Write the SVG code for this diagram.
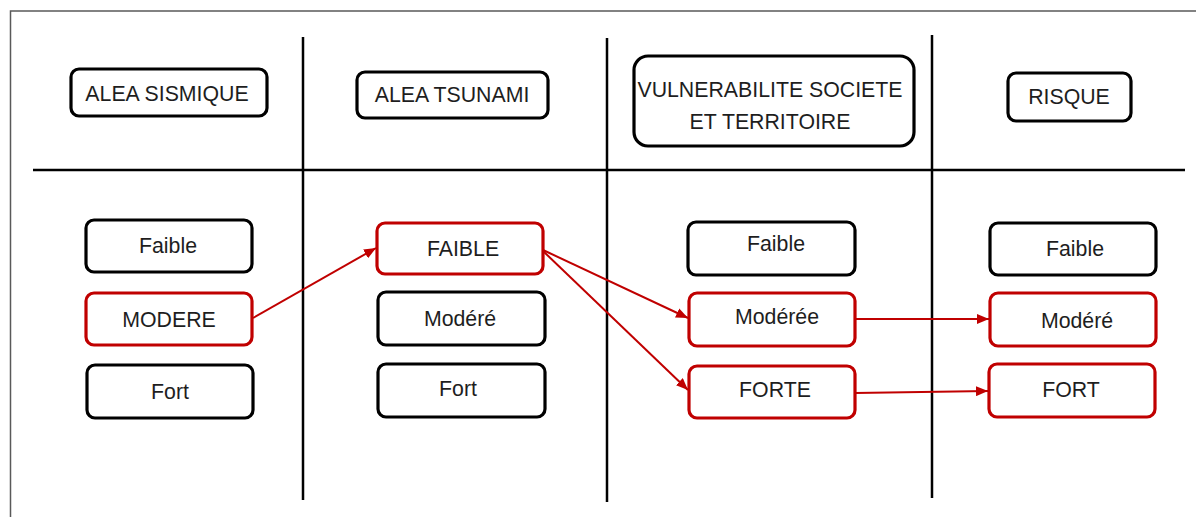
<svg xmlns="http://www.w3.org/2000/svg" width="1196" height="517" viewBox="0 0 1196 517">
<style>
  .frame{fill:none;stroke:#595959;stroke-width:1.5}
  .grid{stroke:#000;stroke-width:2.5;fill:none}
  .box{fill:#fff;stroke:#000;stroke-width:3.2}
  .sel{fill:#fff;stroke:#C00000;stroke-width:3.2}
  .t{font-family:"Liberation Sans",Arial,sans-serif;font-size:21.3px;fill:#1e1e1e;text-anchor:middle}
  .conn{stroke:#C00000;stroke-width:2;fill:none}
</style>
<defs>
  <marker id="ah" markerWidth="12" markerHeight="10" refX="12" refY="5" orient="auto" markerUnits="userSpaceOnUse">
    <path d="M0,0 L12,5 L0,10 z" fill="#C00000"/>
  </marker>
</defs>
<rect width="1196" height="517" fill="#fff"/>
<path class="frame" d="M10.5,517 V11 H1196"/>
<g id="grid">
  <line class="grid" x1="33" y1="170" x2="1185" y2="170"/>
  <line class="grid" x1="303" y1="37" x2="303" y2="500"/>
  <line class="grid" x1="607" y1="38" x2="607" y2="502"/>
  <line class="grid" x1="932" y1="35" x2="932" y2="498"/>
</g>
<g id="h-sismique"><rect class="box" x="71" y="69" width="196" height="47" rx="8"/><text class="t" x="167" y="101">ALEA SISMIQUE</text></g>
<g id="h-tsunami"><rect class="box" x="357" y="72" width="191" height="46" rx="8"/><text class="t" x="452" y="102">ALEA TSUNAMI</text></g>
<g id="h-vulnerabilite"><rect class="box" x="634" y="56" width="280" height="90" rx="14"/><text class="t" x="770" y="97">VULNERABILITE SOCIETE</text><text class="t" x="770" y="129">ET TERRITOIRE</text></g>
<g id="h-risque"><rect class="box" x="1008" y="73" width="123" height="48" rx="8"/><text class="t" x="1069" y="104">RISQUE</text></g>

<g id="s-faible"><rect class="box" x="86" y="220" width="166" height="52" rx="8"/><text class="t" x="168" y="253">Faible</text></g>
<g id="s-modere"><rect class="sel" x="86" y="293" width="166" height="52" rx="8"/><text class="t" x="169" y="327">MODERE</text></g>
<g id="s-fort"><rect class="box" x="87" y="365" width="166" height="53" rx="8"/><text class="t" x="170" y="399">Fort</text></g>

<g id="t-faible"><rect class="sel" x="377" y="223" width="166" height="51" rx="8"/><text class="t" x="463" y="256">FAIBLE</text></g>
<g id="t-modere"><rect class="box" x="378" y="292" width="167" height="53" rx="8"/><text class="t" x="460" y="326">Modéré</text></g>
<g id="t-fort"><rect class="box" x="378" y="364" width="167" height="53" rx="8"/><text class="t" x="458" y="396">Fort</text></g>

<g id="v-faible"><rect class="box" x="688" y="222" width="167" height="53" rx="8"/><text class="t" x="776" y="251">Faible</text></g>
<g id="v-moderee"><rect class="sel" x="689" y="293" width="166" height="53" rx="8"/><text class="t" x="777" y="324">Modérée</text></g>
<g id="v-forte"><rect class="sel" x="689" y="366" width="166" height="52" rx="8"/><text class="t" x="775" y="397">FORTE</text></g>

<g id="r-faible"><rect class="box" x="990" y="223" width="166" height="52" rx="8"/><text class="t" x="1075" y="256">Faible</text></g>
<g id="r-modere"><rect class="sel" x="990" y="293" width="166" height="53" rx="8"/><text class="t" x="1077" y="328">Modéré</text></g>
<g id="r-fort"><rect class="sel" x="989" y="364" width="166" height="53" rx="8"/><text class="t" x="1071" y="397">FORT</text></g>

<g id="connectors">
  <line class="conn" x1="253" y1="318" x2="376" y2="248" marker-end="url(#ah)"/>
  <line class="conn" x1="543" y1="250" x2="688" y2="318" marker-end="url(#ah)"/>
  <line class="conn" x1="543" y1="251" x2="688" y2="390" marker-end="url(#ah)"/>
  <line class="conn" x1="855" y1="319" x2="989" y2="319" marker-end="url(#ah)"/>
  <line class="conn" x1="855" y1="393" x2="988" y2="391" marker-end="url(#ah)"/>
</g>
</svg>
